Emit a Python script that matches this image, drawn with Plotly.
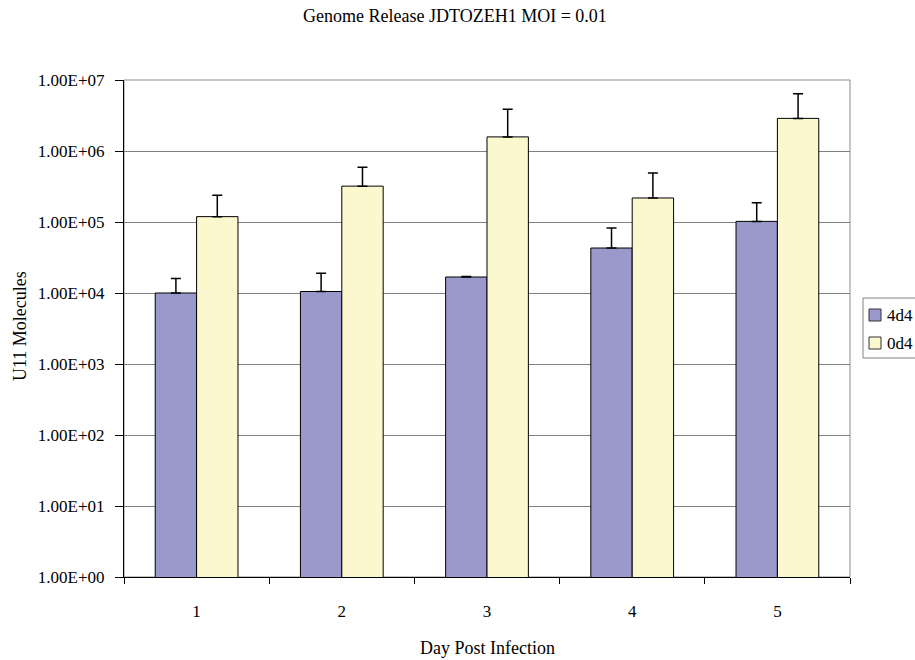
import plotly.graph_objects as go

days = ["1", "2", "3", "4", "5"]
series_names = ["4d4", "0d4"]
series_colors = ["#9999cc", "#fbf8cf"]
vals_4d4 = [1.0e4, 1.05e4, 1.68e4, 4.3e4, 1.02e5]
err_4d4 = [6.0e3, 8.5e3, 3.0e2, 3.9e4, 8.4e4]
vals_0d4 = [1.19e5, 3.2e5, 1.58e6, 2.18e5, 2.88e6]
err_0d4 = [1.19e5, 2.7e5, 2.3e6, 2.72e5, 3.5e6]
ytick_vals = [1e0, 1e1, 1e2, 1e3, 1e4, 1e5, 1e6, 1e7]
ytick_text = ["1.00E+00", "1.00E+01", "1.00E+02", "1.00E+03",
              "1.00E+04", "1.00E+05", "1.00E+06", "1.00E+07"]

FONT = "Liberation Serif, Times New Roman, serif"
TICK = 17
TITLE = 18

W, H = 915, 660
L, R, T, B = 124, 65, 80, 83
PW, PH = W - L - R, H - T - B


def px(page_x):
    return (page_x - L) / PW


def py(page_y):
    return (H - B - page_y) / PH


fig = go.Figure()
for name, vals, errs, col in [(series_names[0], vals_4d4, err_4d4, series_colors[0]),
                              (series_names[1], vals_0d4, err_0d4, series_colors[1])]:
    fig.add_trace(go.Bar(
        x=days, y=vals, name=name,
        marker=dict(color=col, line=dict(color="#000000", width=1)),
        error_y=dict(type="data", array=errs, symmetric=False,
                     arrayminus=[0] * len(vals), color="#000000", thickness=1.5, width=5),
    ))

shapes = [dict(type="rect", xref="paper", yref="paper", x0=0, y0=0, x1=1, y1=1,
               line=dict(color="#8c8c8c", width=1), layer="below")]
# legend box (runs past the right edge as in the reference)
shapes.append(dict(type="rect", xref="paper", yref="paper",
                   x0=px(863), x1=px(935), y0=py(358), y1=py(298),
                   line=dict(color="#808080", width=1), fillcolor="white"))
annotations = []
for i, (name, col) in enumerate(zip(series_names, series_colors)):
    cy = 315 + 28 * i
    shapes.append(dict(type="rect", xref="paper", yref="paper",
                       x0=px(869), x1=px(881), y0=py(cy + 6), y1=py(cy - 6),
                       line=dict(color="#333333", width=1), fillcolor=col))
    annotations.append(dict(text=name, xref="paper", yref="paper",
                            x=px(885), y=py(cy), xanchor="left", yanchor="middle",
                            showarrow=False, font=dict(family=FONT, size=TICK)))

annotations += [
    dict(text="U11 Molecules", textangle=-90, xref="paper", yref="paper",
         x=px(20), y=py(326), xanchor="center", yanchor="middle",
         showarrow=False, font=dict(family=FONT, size=TITLE)),
    dict(text="Day Post Infection", xref="paper", yref="paper",
         x=0.5, y=py(648), xanchor="center", yanchor="middle",
         showarrow=False, font=dict(family=FONT, size=TITLE)),
]

fig.update_layout(
    width=W, height=H,
    margin=dict(l=L, r=R, t=T, b=B, autoexpand=False),
    paper_bgcolor="white", plot_bgcolor="white",
    font=dict(family=FONT, size=TICK, color="#000000"),
    title=dict(text="Genome Release JDTOZEH1 MOI = 0.01",
               xref="container", x=455 / W, xanchor="center",
               yref="container", y=1 - 16 / H, yanchor="middle",
               font=dict(family=FONT, size=TITLE)),
    barmode="group", bargap=0.43, bargroupgap=0,
    showlegend=False,
    hovermode=False,
    xaxis=dict(type="category", showgrid=False, showline=True,
               linecolor="#000000", linewidth=1,
               ticks="outside", ticklen=6, tickcolor="#000000",
               tickson="boundaries", ticklabelstandoff=19,
               tickfont=dict(family=FONT, size=TICK)),
    yaxis=dict(type="log", range=[0, 7], tickvals=ytick_vals, ticktext=ytick_text,
               showgrid=True, gridcolor="#808080", gridwidth=1,
               showline=True, linecolor="#000000", linewidth=1,
               ticks="outside", ticklen=8, tickcolor="#000000",
               ticklabelstandoff=7, zeroline=False,
               tickfont=dict(family=FONT, size=TICK)),
    shapes=shapes,
    annotations=annotations,
)

fig.write_html(
    "out.html",
    config={"displayModeBar": False},
    post_script="document.body.style.margin='0';document.body.style.overflow='hidden';",
)
